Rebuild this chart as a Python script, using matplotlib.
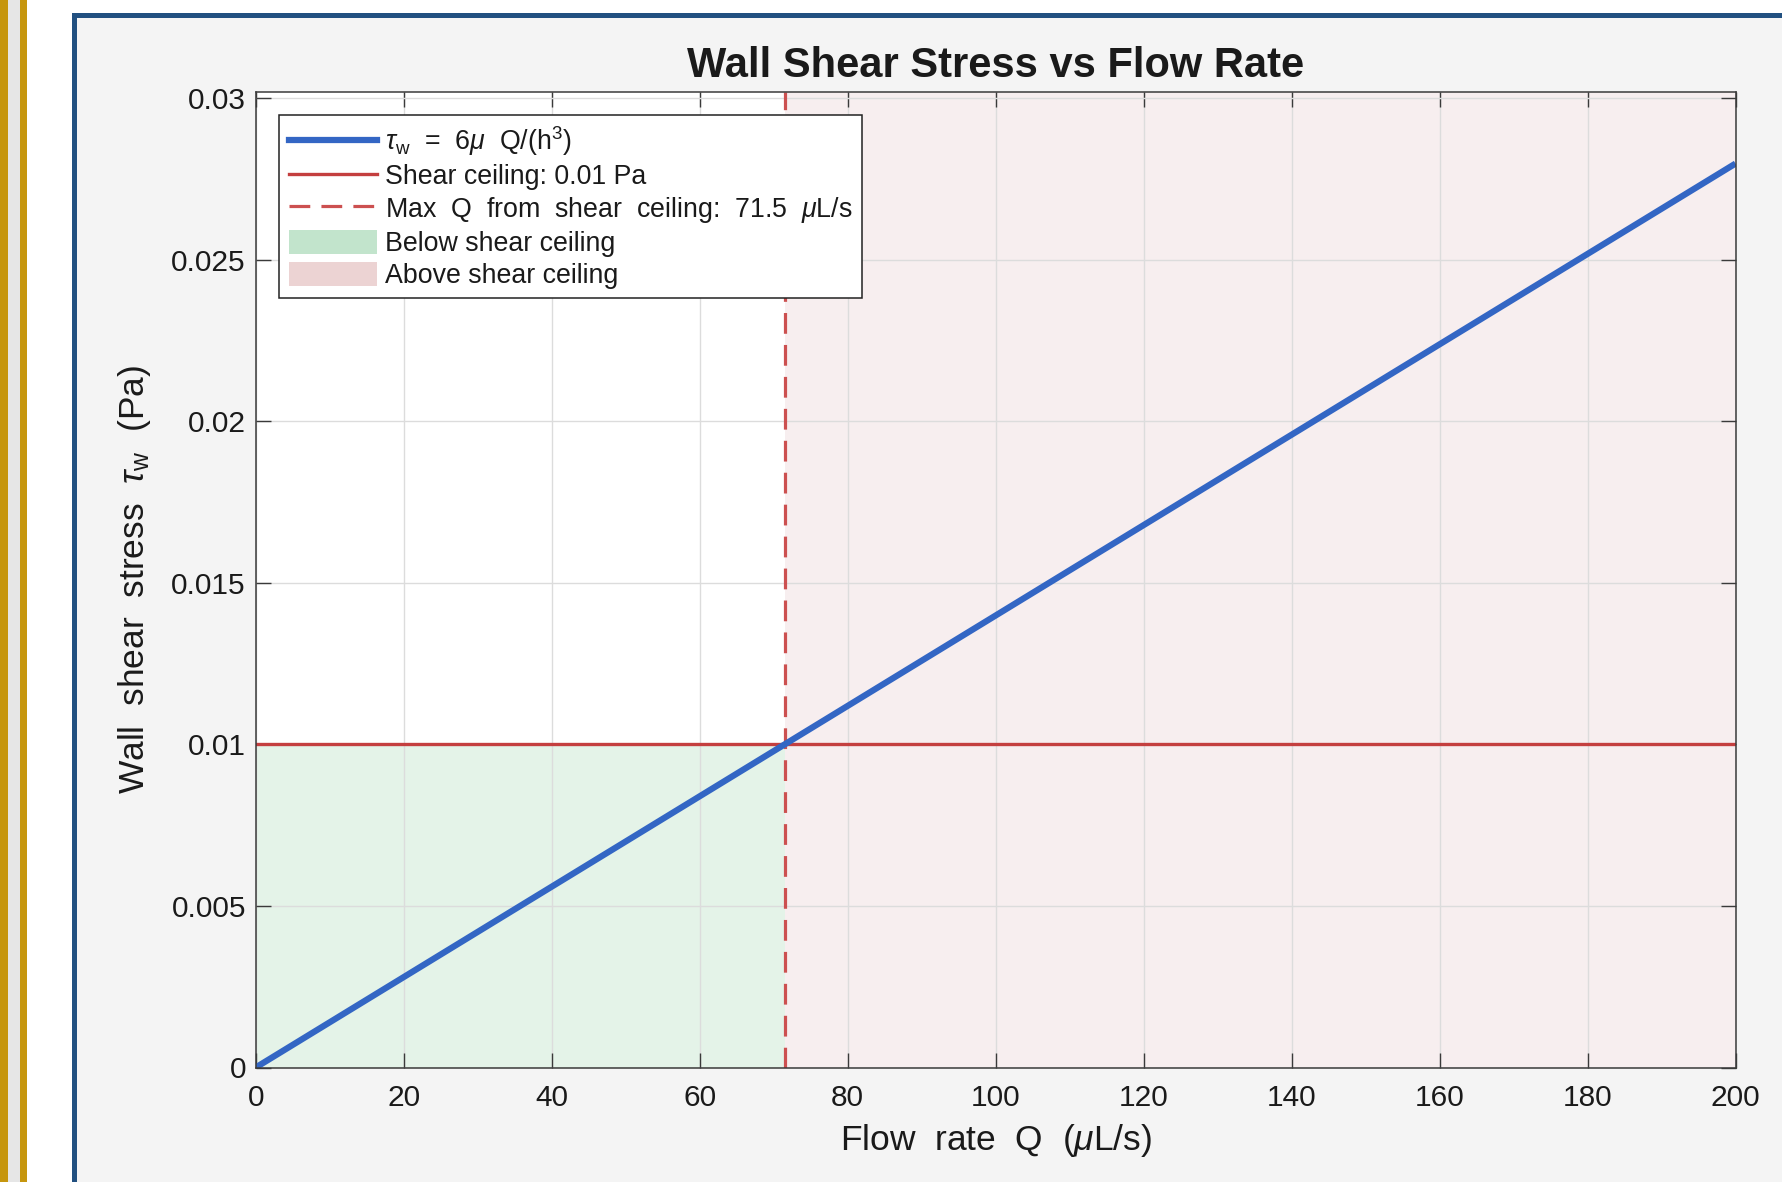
import matplotlib
matplotlib.use('Agg')
import matplotlib.pyplot as plt
from matplotlib.lines import Line2D
from matplotlib.patches import Patch, Rectangle

# ---------------- data ----------------
flow_q = [0, 200]                 # uL/s
tau_w = [0, 0.02797]              # Pa, straight line through origin
shear_ceiling = 0.01              # Pa
q_max = 71.5                      # uL/s, where the line meets the ceiling
y_top = 0.0302

x_ticks = [0, 20, 40, 60, 80, 100, 120, 140, 160, 180, 200]
y_ticks = [0, 0.005, 0.01, 0.015, 0.02, 0.025, 0.03]
y_tick_labels = ['0', '0.005', '0.01', '0.015', '0.02', '0.025', '0.03']

# ---------------- style ----------------
plt.rcParams['font.family'] = ['Liberation Sans', 'DejaVu Sans']
plt.rcParams['mathtext.fontset'] = 'custom'
plt.rcParams['mathtext.rm'] = 'Liberation Sans'
plt.rcParams['mathtext.it'] = 'Liberation Sans:italic'
plt.rcParams['mathtext.bf'] = 'Liberation Sans:bold'

blue = '#3366c4'
red = '#c43f3f'
red_dash = '#cc5050'
green_fill = '#e4f3e8'
pink_fill = '#f7eeef'
green_leg = '#c2e4cc'
pink_leg = '#ecd3d3'
axis_col = '#3a3a3a'
text_col = '#1a1a1a'

W, H = 1782, 1182
fig = plt.figure(figsize=(W / 100, H / 100), dpi=100, facecolor='white')

# screenshot decorations: gold stripes on the left, blue frame round the panel
def px_rect(x0, y0, x1, y1, color):
    fig.patches.append(Rectangle((x0 / W, 1 - y1 / H), (x1 - x0) / W, (y1 - y0) / H,
                                 transform=fig.transFigure, facecolor=color,
                                 edgecolor='none', zorder=-10))

px_rect(0, -10, 7.5, H + 10, '#c6960e')
px_rect(7.5, -10, 19.5, H + 10, '#e6e6e6')
px_rect(19.5, -10, 27, H + 10, '#c6960e')
px_rect(72, 13, W + 20, H + 20, '#215080')
px_rect(77, 18, W + 20, H + 20, '#f4f4f4')

ax = fig.add_axes([255.7 / W, 1 - 1067.5 / H, (1735.5 - 255.7) / W, (1067.5 - 91.5) / H])
ax.set_facecolor('white')

# shaded regions
ax.fill_between([flow_q[0], q_max], 0, shear_ceiling, color=green_fill, linewidth=0, zorder=1)
ax.axvspan(q_max, flow_q[-1], color=pink_fill, linewidth=0, zorder=1)

# lines
ax.plot(flow_q, tau_w, color=blue, linewidth=4.5, zorder=4, solid_capstyle='butt')
ax.plot(flow_q, [shear_ceiling, shear_ceiling], color=red, linewidth=2.4, zorder=3)
ax.plot([q_max, q_max], [0, y_top], color=red_dash, linewidth=2.3, zorder=3,
        dashes=(6.5, 3.5))

ax.set_xlim(flow_q[0], flow_q[-1])
ax.set_ylim(0, y_top)
ax.set_xticks(x_ticks)
ax.set_yticks(y_ticks)
ax.set_yticklabels(y_tick_labels)

ax.set_axisbelow('line')
ax.grid(True, color='#dcdcdc', linewidth=1.0)
ax.tick_params(direction='in', length=11, width=1.0, color=axis_col,
               top=True, right=True, labelsize=21.5, labelcolor=text_col)
ax.tick_params(axis='x', pad=12)
ax.tick_params(axis='y', pad=7)
for s in ax.spines.values():
    s.set_color(axis_col)
    s.set_linewidth(1.1)
    s.set_zorder(5)

ax.set_title('Wall Shear Stress vs Flow Rate', fontsize=30, fontweight='bold',
             color=text_col, pad=10.5)
ax.set_xlabel(r'Flow  rate  Q  ($\mu$L/s)', fontsize=25.5, color=text_col, va='center')
ax.xaxis.set_label_coords(0.5, -0.0753)
ax.set_ylabel(r'Wall  shear  stress  $\tau_{\mathrm{w}}$  (Pa)', fontsize=25.5,
              color=text_col, va='center')
ax.yaxis.set_label_coords(-0.0822, 0.5)

handles = [
    Line2D([], [], color=blue, linewidth=4.5),
    Line2D([], [], color=red, linewidth=2.4),
    Line2D([], [], color=red_dash, linewidth=2.3, dashes=(6.5, 3.5)),
    Patch(facecolor=green_leg, edgecolor='none'),
    Patch(facecolor=pink_leg, edgecolor='none'),
]
labels = [
    r'$\tau_{\mathrm{w}}$  =  6$\mu$  Q/(h$^3$)',
    f'Shear ceiling: {shear_ceiling} Pa',
    f'Max  Q  from  shear  ceiling:  {q_max}  $\\mu$L/s',
    'Below shear ceiling',
    'Above shear ceiling',
]
leg = ax.legend(handles, labels, loc='upper left', bbox_to_anchor=(0.016, 0.976),
                borderaxespad=0, fontsize=19.3, frameon=True, fancybox=False,
                framealpha=1, edgecolor='#222222', handlelength=3.3,
                handleheight=1.0, handletextpad=0.3, labelspacing=0.18,
                borderpad=0.35)
leg.get_frame().set_linewidth(1.1)
leg.set_zorder(10)
for t in leg.get_texts():
    t.set_color(text_col)

fig.savefig('out.png', dpi=100, facecolor=fig.get_facecolor())
